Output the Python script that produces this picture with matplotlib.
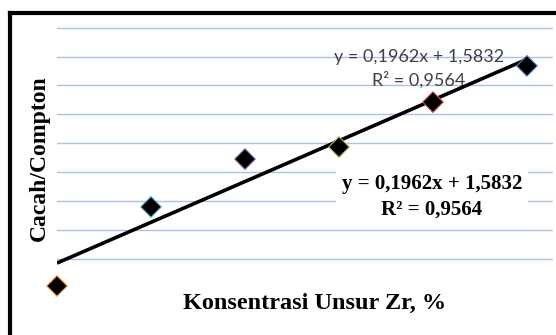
import matplotlib
matplotlib.use("Agg")
import matplotlib.pyplot as plt
from matplotlib.lines import Line2D
import numpy as np

# Zr concentration (equal steps) and count/Compton ratio
konsentrasi = [1, 2, 3, 4, 5, 6]
cacah_compton = [1.670, 2.050, 2.280, 2.338, 2.554, 2.728]
# Excel "vary colours by point" outlines, last point first
edge_colors = ["#F79646", "#4BACC6", "#8064A2", "#9BBB59", "#C0504D", "#4F81BD"]

eq_small = "y = 0,1962x + 1,5832\nR² = 0,9564"
eq_bold = "y = 0,1962x + 1,5832\nR² = 0,9564"

W, H = 556, 335
fig = plt.figure(figsize=(W / 100, H / 100), dpi=100)

# axes placed in pixel terms
left, right, top, bottom = 57, 553, 20, 300
ax = fig.add_axes([left / W, (H - bottom) / H, (right - left) / W, (bottom - top) / H])
ax.set_xlim(1, 6.277)
ax.set_ylim(1.6025, 2.9486)

ax.set_yticks(1.80 + 0.139 * np.arange(9))
ax.tick_params(left=False, bottom=False, labelleft=False, labelbottom=False)
ax.grid(axis="y", color="#a9c1e8", linewidth=1)
ax.set_axisbelow(True)
for s in ax.spines.values():
    s.set_visible(False)

# Excel's own trendline label (no background, under the line)
ax.text(419 / W, 1 - 69 / H, eq_small, transform=fig.transFigure,
        ha="center", va="center", multialignment="center",
        fontsize=13, family="Lato", color="#404040", linespacing=1.45, zorder=1)

# linear trendline
k, b = np.polyfit(konsentrasi, cacah_compton, 1)
xs = np.array([konsentrasi[0], konsentrasi[-1]])
ax.plot(xs, k * xs + b, color="black", linewidth=2.6, solid_capstyle="butt", zorder=2)

ax.scatter(konsentrasi, cacah_compton, marker="D", s=110, c="black",
           edgecolors=edge_colors, linewidths=0.8, clip_on=False, zorder=3)

# bold label with white box
fig.text(432 / W, 1 - 197 / H, eq_bold, ha="center", va="center", multialignment="center",
         fontsize=15, family="Liberation Serif", fontweight="bold", color="black",
         linespacing=1.38,
         bbox=dict(boxstyle="square,pad=0.3", facecolor="white", edgecolor="none"))

fig.text(39 / W, 1 - 158 / H, "Cacah/Compton", rotation=90, ha="center", va="center",
         fontsize=17, family="Liberation Serif", fontweight="bold")
fig.text(315 / W, 1 - 303 / H, "Konsentrasi Unsur Zr, %", ha="center", va="center",
         fontsize=17.5, family="Liberation Serif", fontweight="bold")

# outer frame (top and left edges only are visible)
fig.add_artist(Line2D([9.5 / W, 1], [1 - 13 / H, 1 - 13 / H], color="black",
                      linewidth=3, transform=fig.transFigure, solid_capstyle="projecting"))
fig.add_artist(Line2D([9.5 / W, 9.5 / W], [1 - 13 / H, 0], color="black",
                      linewidth=3, transform=fig.transFigure, solid_capstyle="projecting"))

fig.savefig("out.png", dpi=100, facecolor="white")
